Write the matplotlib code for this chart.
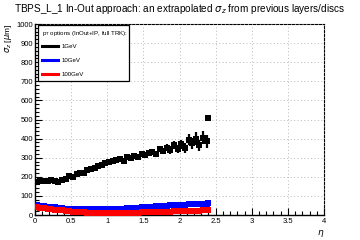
import matplotlib
matplotlib.use("Agg")
import matplotlib.pyplot as plt
from matplotlib.lines import Line2D
from matplotlib.patches import Rectangle
from matplotlib.ticker import MultipleLocator, FormatStrFormatter
import numpy as np

plt.rcParams['font.family'] = ['Liberation Sans', 'DejaVu Sans']

title = r"TBPS_L_1 In-Out approach: an extrapolated $\sigma_{z}$ from previous layers/discs"
legend_title = r"p$_{\rm T}$ options (InOut+IP, full TRK):"
labels = ["1GeV", "10GeV", "100GeV"]
colors = ["black", "blue", "red"]

eta = [0.025, 0.075, 0.125, 0.175, 0.225, 0.275, 0.325, 0.375, 0.425, 0.475,
       0.525, 0.575, 0.625, 0.675, 0.725, 0.775, 0.825, 0.875, 0.925, 0.975,
       1.025, 1.075, 1.125, 1.175, 1.225, 1.275, 1.325, 1.375, 1.425, 1.475,
       1.525, 1.575, 1.625, 1.675, 1.725, 1.775, 1.825, 1.875, 1.925, 1.975,
       2.025, 2.075, 2.125, 2.175, 2.225, 2.275, 2.325, 2.375, 2.395]

sig_1gev = [172, 178, 180, 176, 183, 178, 172, 185, 190, 205,
            200, 215, 222, 218, 235, 242, 248, 258, 262, 270,
            278, 283, 288, 292, 285, 305, 298, 310, 305, 318,
            312, 325, 330, 320, 345, 335, 352, 340, 365, 345,
            370, 350, 395, 375, 400, 365, 405, 385, 510]
err_1gev = [8, 8, 8, 8, 8, 8, 8, 8, 9, 9,
            9, 9, 10, 10, 10, 10, 10, 11, 11, 11,
            12, 12, 12, 12, 13, 13, 13, 14, 14, 14,
            15, 15, 16, 16, 17, 18, 18, 20, 22, 22,
            25, 25, 30, 30, 32, 30, 35, 35, 0]

sig_10gev = [50, 48, 46, 44, 42, 40, 38, 36, 34, 33,
             32, 31, 31, 30, 30, 30, 30, 30, 31, 31,
             31, 32, 32, 33, 34, 35, 36, 37, 39, 41,
             42, 43, 44, 46, 47, 48, 48, 50, 51, 52,
             53, 54, 55, 56, 57, 58, 59, 60, 61]

sig_100gev = [42, 38, 35, 32, 30, 28, 26, 24, 22, 20,
              18, 17, 16, 14, 13, 12, 12, 11, 11, 10,
              10, 10, 11, 11, 11, 12, 12, 13, 13, 14,
              14, 15, 15, 16, 17, 17, 18, 18, 19, 20,
              20, 21, 22, 22, 23, 23, 24, 24, 24]

fig = plt.figure(figsize=(3.6, 2.4), dpi=100)
ax = fig.add_axes([35/360, 25/240, 289/360, 191/240])

ax.set_xlim(0, 4)
ax.set_ylim(0, 1000)

ax.errorbar(eta, sig_1gev, yerr=err_1gev, fmt='s', color='black', ms=4.6,
            mew=0, elinewidth=1.6, capsize=1.2, capthick=1.2, zorder=5)
ax.errorbar(eta, sig_10gev, yerr=4, fmt='s', color='blue', ms=4.4,
            mew=0, elinewidth=1.4, capsize=0, zorder=4)
ax.errorbar(eta, sig_100gev, yerr=4, fmt='s', color='red', ms=4.4,
            mew=0, elinewidth=1.4, capsize=0, zorder=6)

ax.xaxis.set_major_locator(MultipleLocator(0.5))
ax.xaxis.set_minor_locator(MultipleLocator(0.1))
ax.xaxis.set_major_formatter(FormatStrFormatter('%g'))
ax.yaxis.set_major_locator(MultipleLocator(100))
ax.yaxis.set_minor_locator(MultipleLocator(20))
ax.tick_params(which='both', direction='in', top=False, right=False,
               labelsize=5.5, width=0.8)
ax.tick_params(axis='x', pad=2.5)
ax.tick_params(axis='y', pad=1.5)
ax.tick_params(which='major', length=5)
ax.tick_params(which='minor', length=3)
ax.grid(True, which='major', linestyle=(0, (1, 2.5)), color='#b8b8b8', linewidth=0.7)

for s in ['left', 'bottom']:
    ax.spines[s].set_linewidth(1.0)
for s in ['top', 'right']:
    ax.spines[s].set_linestyle((0, (2, 1.5)))
    ax.spines[s].set_linewidth(0.8)

ax.set_ylabel(r"$\sigma_{z}$ [$\mu$m]", loc='top', fontsize=6, labelpad=2)
ax.set_xlabel(r"$\eta$", loc='right', fontsize=6.5, labelpad=2)

fig.text(14/360, 1 - 9/240, title, fontsize=7.2, va='center', ha='left')

# legend box
lx0, ly0, lx1, ly1 = 38/360, 1 - 81/240, 129/360, 1 - 25/240
fig.patches.append(Rectangle((lx0, ly0), lx1 - lx0, ly1 - ly0, transform=fig.transFigure,
                             facecolor='white', edgecolor='black', linewidth=0.9, zorder=10))
fig.text(42/360, 1 - 34/240, legend_title, fontsize=4.4, va='center', ha='left', zorder=11)
rows = [46, 60, 74]
for lab, col, ry in zip(labels, colors, rows):
    yy = 1 - ry/240
    fig.lines.append(Line2D([42/360, 58/360], [yy, yy], transform=fig.transFigure,
                            color=col, linewidth=2.2, zorder=11))
    fig.text(62/360, yy, lab, fontsize=4.4, va='center', ha='left', zorder=11)

fig.savefig("out.png", dpi=100)
